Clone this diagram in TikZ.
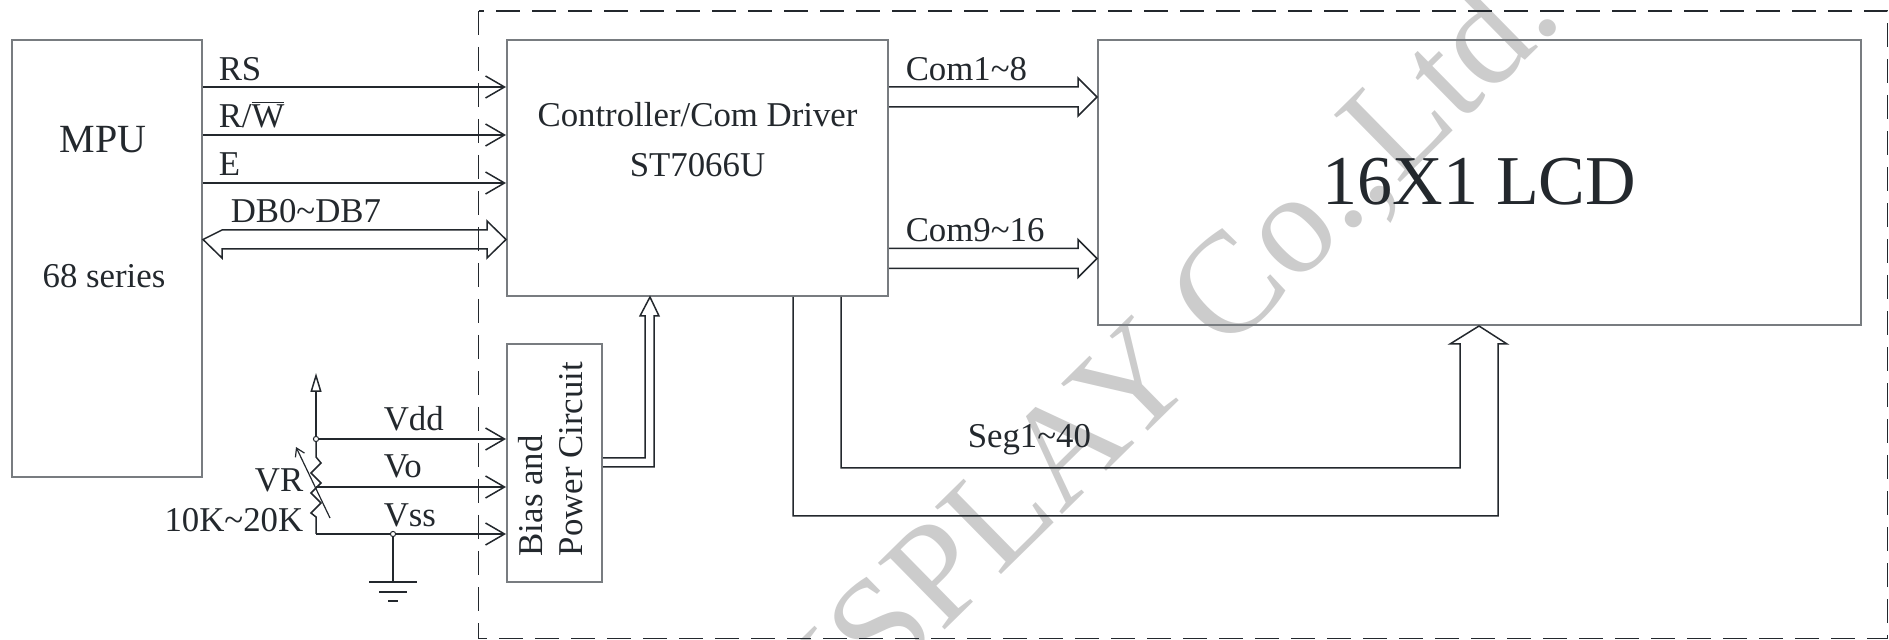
\documentclass[tikz,border=0pt]{standalone}
\usepackage{fontspec}
\setmainfont{Liberation Serif}
\usetikzlibrary{arrows.meta,calc}

\definecolor{ink}{RGB}{35,40,45}
\definecolor{boxline}{RGB}{120,124,128}
\definecolor{wmark}{RGB}{204,204,204}

\begin{document}
\begin{tikzpicture}[x=0.5pt,y=-0.5pt,color=ink,line width=0.75pt,
  box/.style={draw=boxline,line width=1pt,inner sep=0pt},
  txt/.style={inner sep=0pt,font=\fontsize{17.4}{20}\selectfont},
  sig/.style={-{Straight Barb[length=9.5pt,width=11pt]}},
  busr/.style={to path={($(\tikztostart)+(0,-10)$) -- ($(\tikztotarget)+(-19,-10)$) -- ++(0,-9) -- (\tikztotarget) -- ++(-19,19) -- ++(0,-9) -- ($(\tikztostart)+(0,10)$)}},
  busb/.style={to path={($(\tikztostart)+(19,-9.5)$) -- ($(\tikztotarget)+(-19,-9.5)$) -- ++(0,-9) -- (\tikztotarget) -- ++(-19,18.5) -- ++(0,-9) -- ($(\tikztostart)+(19,9.5)$) -- ++(0,9) -- (\tikztostart) -- cycle}},
]
\path[use as bounding box] (0,0) rectangle (1889,640);

% watermark
\begin{scope}
\clip (0,0) rectangle (1889,640);
\node[rotate=44.5,anchor=base east,inner sep=0pt,text=wmark,font=\fontsize{72}{80}\selectfont] (wmk) at (1566,20) {DISPLAY Co.,Ltd.};
\end{scope}

% module frame
\draw[dash pattern=on 12pt off 6pt,line width=0.9pt] (478.5,11) rectangle (1887.5,638.5);

% blocks
\node[box,minimum width=95pt,minimum height=218.5pt] (mpu) at (107,258.5) {};
\node[txt,font=\fontsize{20}{24}\selectfont,anchor=base] (mpuname) at (103,153) {MPU};
\node[txt,anchor=base] (mpuser) at (104,288) {68 series};

\node[box,minimum width=190.5pt,minimum height=128pt] (ctl) at (697.5,168) {};
\node[txt,anchor=base] (ctlname) at (697.5,127) {Controller/Com Driver};
\node[txt,anchor=base] (ctlchip) at (697.5,177) {ST7066U};

\node[box,minimum width=381.5pt,minimum height=142.5pt] (lcd) at (1479.5,182.5) {};
\node[txt,font=\fontsize{35}{40}\selectfont,anchor=base] (lcdname) at (1479.5,205) {16X1 LCD};

\node[box,minimum width=47.5pt,minimum height=119pt] (bias) at (554.5,463) {};
\node[txt,rotate=90,anchor=base west] (biasa) at (542,557) {Bias and};
\node[txt,rotate=90,anchor=base west] (biasb) at (582,557) {Power Circuit};

% MPU interface
\foreach \y in {87,135,183}
  \draw[sig] (mpu.east |- 0,\y) -- (ctl.west |- 0,\y);
\coordinate (dba) at (mpu.east |- 0,239.5);
\coordinate (dbb) at (ctl.west |- 0,239.5);
\draw[busb] (dba) to (dbb);
\node[txt,anchor=base west] (rs) at (218,81) {RS};
\node[txt,anchor=base west] (rw) at (218,128) {R/$\overline{\hbox{W}}$};
\node[txt,anchor=base west] (en) at (218,176) {E};
\node[txt,anchor=base west] (db) at (230,223) {DB0\textasciitilde DB7};

% common lines
\coordinate (coma) at (ctl.east |- 0,97);
\coordinate (comb) at (lcd.west |- 0,97);
\coordinate (comc) at (ctl.east |- 0,258.5);
\coordinate (comd) at (lcd.west |- 0,258.5);
\draw[busr] (coma) to (comb);
\draw[busr] (comc) to (comd);
\node[txt,anchor=base west] (com1) at (905,81) {Com1\textasciitilde 8};
\node[txt,anchor=base west] (com2) at (905,242) {Com9\textasciitilde 16};

% segment lines
\draw (ctl.south -| 841,0) |- (1460,468) -- (1460,344) -- (1450,344) -- (lcd.south -| 1479,0)
  -- (1507,344) -- (1498,344) |- (793,516) -- (ctl.south -| 793,0);
\node[txt,anchor=base west] (seg) at (967,448) {Seg1\textasciitilde 40};

% bias supply to controller
\draw (bias.east |- 0,458) -| (645,316) -- (640,316) -- (ctl.south -| 650,0)
  -- (659,316) -- (654,316) |- (bias.east |- 0,467);

% contrast divider
\coordinate (vddj) at (316,439);
\coordinate (vot) at (316,487);
\coordinate (vssc) at (316,534);
\coordinate (vssj) at (393,534);
\draw[-{Triangle[open,length=9.5pt,width=5.5pt]}] (vddj) -- (316,373);
\draw (vddj) -- (316,457) -- (321,463) -- (311,473) -- (321,483) -- (311,493) -- (321,503)
  -- (311,513) -- (316,517) -- (vssc);
\draw[line width=0.6pt,-{Straight Barb[length=4pt,width=5pt]}] (330,518) -- (296,447);
\draw[sig] (vddj) -- (bias.west |- vddj);
\draw[sig] (vot) -- (bias.west |- vot);
\draw[sig] (vssc) -- (bias.west |- vssc);
\draw (vssj) -- (393,582);
\draw (369,582) -- (417,582) (379,592) -- (407,592) (388,601) -- (398,601);
\draw[fill=white,line width=0.5pt] (vddj) circle (1.3pt) (vssj) circle (1.3pt);
\node[txt,anchor=base west] (vdd) at (383,431) {Vdd};
\node[txt,anchor=base west] (vo) at (383,478) {Vo};
\node[txt,anchor=base west] (vss) at (383,527) {Vss};
\node[txt,anchor=base east] (vr) at (304,492) {VR};
\node[txt,anchor=base east] (vrval) at (304,531) {10K\textasciitilde 20K};
\end{tikzpicture}
\end{document}
